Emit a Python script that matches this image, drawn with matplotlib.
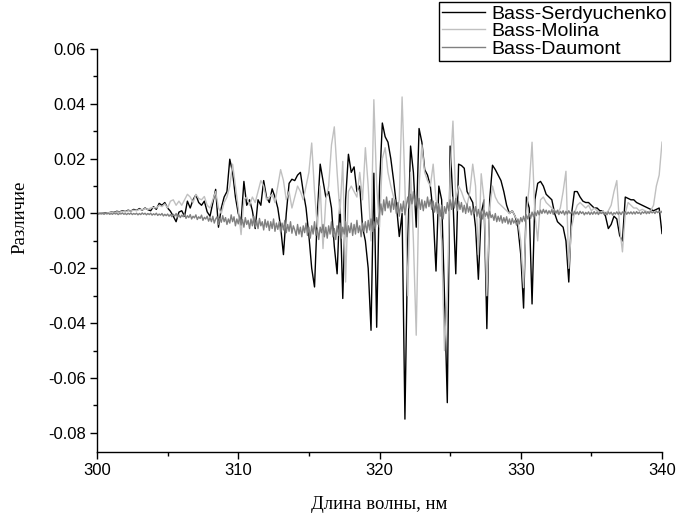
import numpy as np
import matplotlib
matplotlib.use("Agg")
import matplotlib.pyplot as plt
from matplotlib.ticker import MultipleLocator, FormatStrFormatter

# Wavelength grids (nm)
wavelength = np.round(np.arange(300.0, 340.0001, 0.2), 1)     # Serdyuchenko, Molina
wavelength_d = np.round(np.arange(300.0, 340.0001, 0.1), 1)   # Daumont

serdyuchenko = [
    0.0000, 0.0000, 0.0002, 0.0003, 0.0002, 0.0005, 0.0004, 0.0008, 0.0006, 0.0010, 0.0007,
    0.0012, 0.0009, 0.0015, 0.0011, 0.0018, 0.0012, 0.0020, 0.0014, 0.0010, 0.0025,
    0.0015, 0.0037, 0.0030, 0.0040, 0.0020, 0.0008, -0.0010, -0.0030, 0.0005, 0.0010,
    -0.0010, 0.0045, 0.0020, 0.0050, 0.0068, 0.0040, 0.0030, 0.0045, 0.0006, -0.0010,
    0.0040, 0.0088, -0.0050, 0.0020, 0.0060, 0.0080, 0.0198, 0.0150, 0.0060, 0.0000,
    -0.0030, 0.0117, 0.0030, 0.0050, 0.0010, -0.0055, 0.0050, 0.0030, 0.0120, 0.0060,
    0.0040, 0.0090, 0.0060, 0.0020, -0.0050, -0.0150, 0.0000, 0.0110, 0.0125, 0.0120,
    0.0140, 0.0150, 0.0080, 0.0020, -0.0080, -0.0200, -0.0268, 0.0000, 0.0180, 0.0120,
    0.0060, 0.0080, 0.0020, -0.0120, -0.0220, 0.0050, -0.0310, 0.0050, 0.0216, 0.0150,
    0.0170, 0.0080, 0.0100, -0.0050, -0.0100, -0.0200, -0.0426, 0.0147, -0.0415, 0.0100,
    0.0330, 0.0280, 0.0260, 0.0200, 0.0120, 0.0030, -0.0084, 0.0000, -0.0750, -0.0100,
    0.0246, 0.0150, -0.0050, 0.0310, 0.0260, 0.0160, 0.0140, 0.0100, 0.0000, -0.0210,
    0.0100, 0.0050, -0.0300, -0.0690, 0.0246, 0.0050, -0.0220, 0.0180, 0.0175, 0.0165,
    0.0080, 0.0060, 0.0040, -0.0050, -0.0240, 0.0000, 0.0050, -0.0420, 0.0050, 0.0176,
    0.0160, 0.0140, 0.0120, 0.0080, 0.0030, 0.0000, 0.0010, -0.0010, -0.0050, -0.0150,
    -0.0345, 0.0060, 0.0020, -0.0330, 0.0050, 0.0110, 0.0117, 0.0100, 0.0070, 0.0060,
    0.0050, 0.0000, -0.0030, -0.0040, -0.0050, -0.0100, -0.0250, 0.0000, 0.0080, 0.0080,
    0.0060, 0.0045, 0.0040, 0.0040, 0.0030, 0.0020, 0.0020, 0.0010, 0.0010, -0.0010,
    -0.0055, -0.0040, -0.0010, -0.0020, -0.0080, -0.0100, 0.0060, 0.0055, 0.0050, 0.0050,
    0.0040, 0.0035, 0.0030, 0.0025, 0.0020, 0.0015, 0.0010, 0.0015, 0.0020, -0.0073,
]

molina = [
    0.0000, 0.0001, 0.0002, 0.0001, 0.0003, 0.0004, 0.0003, 0.0006, 0.0005, 0.0008, 0.0006,
    0.0010, 0.0009, 0.0012, 0.0010, 0.0015, 0.0013, 0.0018, 0.0015, 0.0020, 0.0022,
    0.0020, 0.0030, 0.0025, 0.0035, 0.0020, 0.0045, 0.0050, 0.0030, 0.0045, 0.0030,
    0.0050, 0.0070, 0.0060, 0.0040, 0.0070, 0.0055, 0.0050, 0.0062, 0.0030, 0.0020,
    0.0050, 0.0080, 0.0020, 0.0000, 0.0040, 0.0060, 0.0100, 0.0180, 0.0100, 0.0020,
    -0.0077, 0.0050, 0.0060, 0.0030, 0.0060, 0.0040, 0.0080, 0.0120, 0.0100, 0.0050,
    0.0060, 0.0070, 0.0040, 0.0100, 0.0160, 0.0120, 0.0050, 0.0080, 0.0020, 0.0060,
    0.0100, 0.0080, 0.0050, 0.0100, 0.0150, 0.0257, 0.0080, -0.0050, 0.0100, -0.0128,
    0.0050, 0.0100, 0.0250, 0.0316, 0.0150, 0.0000, 0.0190, -0.0250, 0.0080, 0.0100,
    0.0080, 0.0060, 0.0150, 0.0050, 0.0240, 0.0100, -0.0100, 0.0415, 0.0100, -0.0050,
    0.0200, 0.0240, 0.0150, 0.0100, 0.0060, 0.0000, 0.0050, 0.0425, 0.0100, -0.0300,
    0.0150, -0.0100, -0.0444, 0.0100, 0.0250, 0.0150, 0.0120, 0.0100, 0.0180, 0.0050,
    0.0020, -0.0100, -0.0500, -0.0300, 0.0150, 0.0337, 0.0050, 0.0100, 0.0080, 0.0050,
    0.0030, 0.0080, 0.0180, 0.0100, -0.0150, 0.0145, 0.0050, -0.0300, 0.0020, 0.0100,
    0.0060, 0.0040, 0.0030, 0.0020, 0.0010, 0.0000, 0.0010, -0.0010, -0.0030, -0.0100,
    -0.0270, 0.0000, 0.0100, 0.0260, 0.0000, -0.0100, 0.0050, 0.0060, 0.0040, 0.0030,
    0.0020, 0.0010, 0.0000, 0.0020, 0.0080, 0.0154, -0.0200, -0.0050, 0.0000, 0.0030,
    0.0040, 0.0030, 0.0020, 0.0030, 0.0010, 0.0020, 0.0010, 0.0000, 0.0010, 0.0000,
    0.0010, 0.0030, 0.0080, 0.0120, -0.0050, -0.0140, 0.0000, 0.0040, 0.0030, 0.0020,
    0.0020, 0.0010, 0.0015, 0.0010, 0.0005, 0.0010, 0.0030, 0.0100, 0.0140, 0.0260,
]

daumont = [
    0.0000, -0.0002, 0.0001, -0.0002, 0.0000, -0.0003, 0.0001, -0.0002, 0.0001, -0.0003,
    0.0000, -0.0003, 0.0002, -0.0002, 0.0001, -0.0004, 0.0000, -0.0002, 0.0002, -0.0003,
    0.0000, -0.0004, 0.0001, -0.0003, 0.0002, -0.0004, 0.0000, -0.0003, 0.0001, -0.0005,
    0.0000, -0.0004, 0.0002, -0.0003, 0.0001, -0.0005, 0.0000, -0.0004, 0.0001, -0.0006,
    -0.0001, -0.0005, 0.0001, -0.0007, -0.0002, -0.0006, 0.0000, -0.0009, -0.0003, -0.0008,
    -0.0002, -0.0010, -0.0004, -0.0012, -0.0003, -0.0010, 0.0000, -0.0013, -0.0005, -0.0015,
    -0.0006, -0.0012, -0.0002, -0.0018, -0.0008, -0.0015, -0.0004, -0.0020, -0.0010, -0.0016,
    -0.0005, -0.0022, -0.0012, -0.0018, -0.0006, -0.0025, -0.0014, -0.0020, -0.0010, -0.0028,
    -0.0015, -0.0030, -0.0010, -0.0035, -0.0020, -0.0012, -0.0040, -0.0018, -0.0032, -0.0008,
    -0.0030, -0.0015, -0.0040, -0.0020, -0.0035, -0.0005, -0.0030, -0.0012, -0.0045, -0.0020,
    -0.0038, -0.0010, -0.0042, -0.0022, -0.0050, -0.0015, -0.0040, -0.0025, -0.0055, -0.0020,
    -0.0045, -0.0010, -0.0050, -0.0025, -0.0055, -0.0018, -0.0045, -0.0030, -0.0060, -0.0022,
    -0.0050, -0.0028, -0.0062, -0.0030, -0.0055, -0.0020, -0.0065, -0.0035, -0.0058, -0.0030,
    -0.0068, -0.0035, -0.0060, -0.0025, -0.0070, -0.0040, -0.0065, -0.0030, -0.0072, -0.0045,
    -0.0060, -0.0080, -0.0040, -0.0075, -0.0050, -0.0085, -0.0045, -0.0070, -0.0035, -0.0080,
    -0.0050, -0.0090, -0.0045, -0.0075, -0.0030, -0.0080, -0.0055, -0.0095, -0.0050, -0.0070,
    -0.0040, -0.0085, -0.0050, -0.0090, -0.0045, -0.0075, -0.0030, -0.0085, -0.0055, -0.0095,
    -0.0045, -0.0080, -0.0035, -0.0090, -0.0050, -0.0075, -0.0030, -0.0085, -0.0045, -0.0070,
    -0.0035, -0.0080, -0.0040, -0.0075, -0.0025, -0.0070, -0.0045, -0.0085, -0.0035, -0.0065,
    -0.0030, -0.0070, -0.0025, -0.0060, -0.0020, -0.0065, -0.0030, -0.0055, -0.0015, -0.0040,
    0.0000, 0.0035, -0.0005, 0.0050, 0.0010, 0.0060, 0.0020, 0.0045, 0.0005, 0.0055,
    0.0015, 0.0050, 0.0000, 0.0040, -0.0010, 0.0035, 0.0005, 0.0045, -0.0005, 0.0030,
    0.0060, 0.0020, 0.0070, 0.0035, 0.0080, 0.0030, 0.0065, 0.0020, 0.0055, 0.0015,
    0.0050, 0.0010, 0.0045, 0.0020, 0.0060, 0.0025, 0.0050, 0.0015, 0.0045, 0.0005,
    0.0040, 0.0000, 0.0035, -0.0010, 0.0030, -0.0020, 0.0025, 0.0000, 0.0040, 0.0010,
    0.0050, 0.0015, 0.0060, 0.0020, 0.0055, 0.0010, 0.0045, 0.0015, 0.0040, 0.0005,
    0.0030, 0.0000, 0.0035, 0.0005, 0.0025, -0.0005, 0.0020, 0.0000, 0.0025, -0.0010,
    0.0015, -0.0015, 0.0010, -0.0020, 0.0012, -0.0010, 0.0005, -0.0018, 0.0008, -0.0015,
    -0.0005, -0.0025, 0.0000, -0.0030, -0.0010, -0.0028, -0.0008, -0.0035, -0.0015, -0.0032,
    -0.0012, -0.0038, -0.0020, -0.0040, -0.0018, -0.0035, -0.0025, -0.0042, -0.0020, -0.0038,
    -0.0015, -0.0030, -0.0010, -0.0028, -0.0005, -0.0020, 0.0000, -0.0018, 0.0005, -0.0012,
    0.0005, -0.0008, 0.0010, -0.0005, 0.0012, 0.0000, 0.0015, 0.0002, 0.0012, -0.0002,
    0.0010, 0.0000, 0.0014, -0.0003, 0.0010, 0.0002, 0.0012, -0.0004, 0.0008, 0.0000,
    0.0010, -0.0005, 0.0008, -0.0002, 0.0010, 0.0000, 0.0006, -0.0006, 0.0008, -0.0002,
    0.0006, -0.0004, 0.0008, 0.0000, 0.0006, -0.0005, 0.0004, -0.0002, 0.0006, -0.0004,
    0.0005, -0.0003, 0.0007, -0.0002, 0.0005, -0.0004, 0.0006, 0.0000, 0.0004, -0.0003,
    0.0004, -0.0005, 0.0006, -0.0002, 0.0005, -0.0006, 0.0003, -0.0002, 0.0006, -0.0003,
    0.0005, -0.0004, 0.0006, 0.0000, 0.0007, -0.0003, 0.0005, -0.0001, 0.0006, -0.0002,
    0.0006, -0.0002, 0.0007, 0.0000, 0.0005, -0.0003, 0.0006, 0.0001, 0.0007, -0.0001,
    0.0006, 0.0000, 0.0008, 0.0002, 0.0007, 0.0000, 0.0009, 0.0003, 0.0008, 0.0002,
    0.0008,
]

labels = ["Bass-Serdyuchenko", "Bass-Molina", "Bass-Daumont"]
colors = ["#000000", "#c0c0c0", "#808080"]
x_label = "Длина волны, нм"
y_label = "Различие"

fig = plt.figure(figsize=(6.82, 5.14), dpi=100)
ax = fig.add_axes([97/682, 1 - 452/514, (662 - 97)/682, (452 - 49)/514])

series = [(wavelength, serdyuchenko), (wavelength, molina), (wavelength_d, daumont)]
for (xs, ys), lab, c in zip(series, labels, colors):
    ax.plot(xs, ys, color=c, lw=1.0, label=lab)

ax.set_xlim(300, 340)
ax.set_ylim(-0.087, 0.06)
ax.spines["top"].set_visible(False)
ax.spines["right"].set_visible(False)
for s in ("left", "bottom"):
    ax.spines[s].set_linewidth(1.0)

ax.xaxis.set_major_locator(MultipleLocator(10))
ax.xaxis.set_minor_locator(MultipleLocator(5))
ax.yaxis.set_major_locator(MultipleLocator(0.02))
ax.yaxis.set_minor_locator(MultipleLocator(0.01))
ax.yaxis.set_major_formatter(FormatStrFormatter("%.2f"))
ax.xaxis.set_major_formatter(FormatStrFormatter("%d"))
ax.tick_params(which="major", direction="out", length=5, width=1.0,
               labelsize=12, pad=3)
ax.tick_params(which="minor", direction="out", length=3, width=1.0)
for lbl in ax.get_xticklabels() + ax.get_yticklabels():
    lbl.set_fontfamily("Liberation Sans")

ax.set_xlabel(x_label, family="Liberation Serif", fontsize=13.5)
ax.set_ylabel(y_label, family="Liberation Serif", fontsize=13.5)
ax.xaxis.set_label_coords(0.5, -(496 - 452) / 403)
ax.yaxis.set_label_coords((28 - 97) / 565, (452 - 217) / 403)

leg = fig.legend(loc="upper left", bbox_to_anchor=(439/682, 1 - 2/514),
                 prop={"family": "Liberation Sans", "size": 14},
                 frameon=True, fancybox=False, framealpha=1, edgecolor="black",
                 borderpad=0.15, labelspacing=0.0, handlelength=2.2,
                 handletextpad=0.35, borderaxespad=0)
leg.get_frame().set_linewidth(1.0)

fig.savefig("out.png", dpi=100)
